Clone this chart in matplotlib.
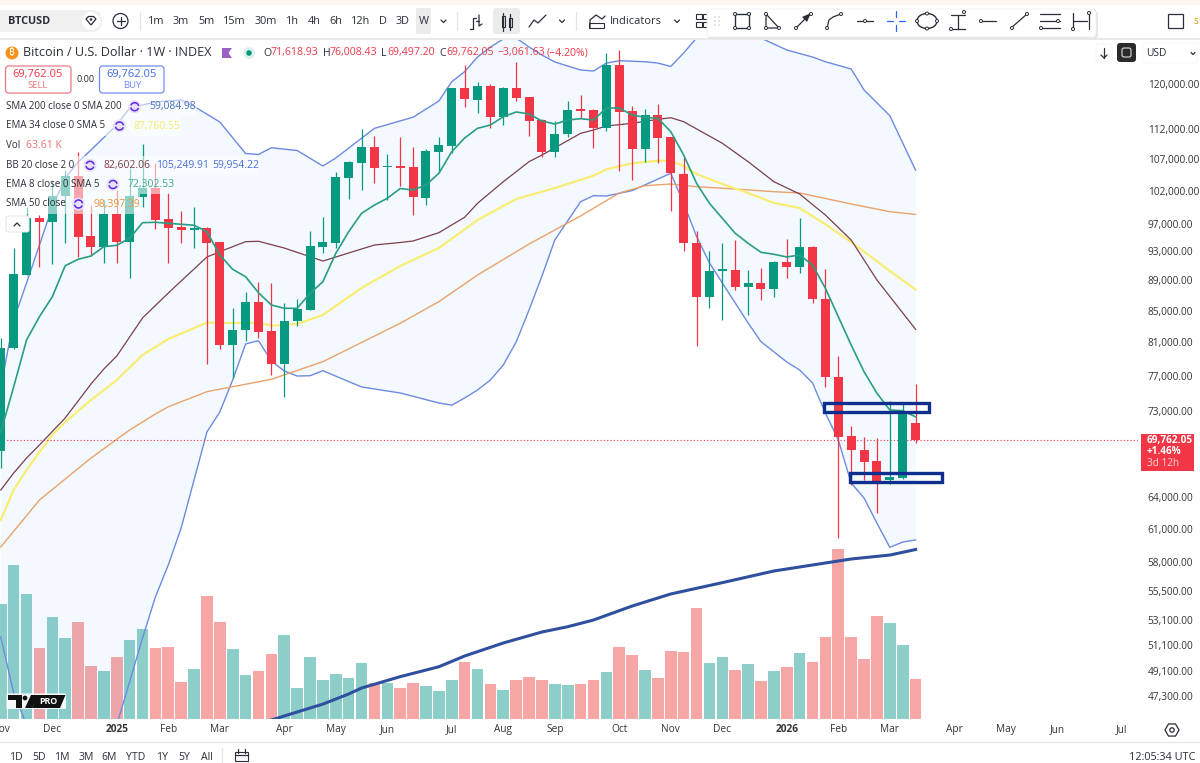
import numpy as np
import matplotlib
matplotlib.use("Agg")
import matplotlib.pyplot as plt
from matplotlib.patches import Rectangle, FancyBboxPatch, Circle, Arc, Ellipse, Polygon

plt.rcParams["font.family"] = ["Open Sans", "DejaVu Sans"]

# weekly candles
opens = [68640, 80330, 89725, 97905, 97225, 101190, 104370, 95220, 93590, 98410, 94395, 101085,
         102480, 97670, 96485, 96091, 96340, 94350, 80660, 82525, 86120, 82360, 78360, 83625,
         85075, 93680, 94250, 104050, 106455, 109025, 105805, 105919, 105760, 100930, 108250, 109190,
         119220, 117114, 119635, 114175, 119325, 117590, 113603, 108250, 111155, 115470, 115400, 112227,
         123515, 115170, 108700, 114520, 110650, 104640, 94250, 86810, 90320, 90375, 88105, 88605,
         87840, 91480, 90870, 93680, 86550, 76825, 70225, 68748, 67575, 65679, 65910, 71618.93]
highs = [81525, 93490, 99560, 98305, 103689, 105279, 108250, 99815, 100580, 102123, 105600, 109480,
         106360, 101610, 98910, 99470, 96570, 94395, 85370, 87480, 88820, 88605, 86025, 86470,
         95945, 97965, 105005, 106780, 112005, 110865, 107820, 110700, 109075, 108700, 110650, 119270,
         123515, 120420, 119950, 119450, 124145, 117700, 113725, 113430, 116880, 118005, 115520, 125860,
         126376, 116100, 115520, 116400, 110750, 107430, 95990, 93070, 94250, 94640, 90416, 90650,
         91660, 94785, 97860, 93780, 90510, 79320, 71340, 70085, 69980, 74070, 73880, 76008.43]
lows = [66890, 80200, 89725, 90870, 91200, 94250, 92265, 92400, 91425, 91340, 89280, 99560,
        96190, 91425, 94165, 93535, 78325, 80135, 76745, 81190, 81490, 77060, 74490, 83065,
        85075, 92825, 93450, 100730, 102123, 103170, 100580, 102790, 98305, 99815, 105005, 107990,
        115920, 114770, 112175, 112740, 116935, 110865, 107430, 107330, 110750, 114000, 108810, 111770,
        105120, 103689, 106620, 106360, 98910, 93110, 80575, 85295, 83790, 87705, 84430, 86380,
        86810, 89280, 90045, 86025, 75700, 60100, 65180, 65679, 62440, 65250, 65750, 69497.20]
closes = [80330, 89826, 97905, 97225, 101190, 104370, 95115, 93590, 98410, 94310, 101190, 102480,
          97565, 96430, 96091, 96380, 94250, 80660, 82560, 86120, 82275, 78325, 83700, 85165,
          93780, 94350, 104165, 106520, 109025, 105645, 105950, 105600, 101085, 108367, 109310, 119220,
          117290, 119635, 114175, 119325, 117470, 113480, 108250, 111207, 115400, 115225, 112227, 123515,
          115050, 108700, 114520, 110580, 104750, 94210, 86810, 90320, 90510, 88105, 88605, 87840,
          91480, 90827, 93680, 86470, 76825, 70150, 68748, 67535, 65610, 65950, 72985, 69762.05]
volumes = [186, 249, 202, 115, 165, 131, 157, 85, 77, 99, 128, 145,
           115, 116, 59, 80, 199, 157, 112, 70, 77, 104, 136, 50,
           99, 62, 73, 66, 90, 58, 58, 50, 58, 53, 45, 63,
           91, 80, 56, 46, 63, 67, 62, 56, 54, 56, 63, 75,
           116, 103, 78, 65, 110, 108, 180, 90, 100, 79, 88, 61,
           77, 84, 106, 91, 133, 275, 133, 96, 166, 155, 120, 63.61]

# indicators
ema8 = [70657, 75670, 81278, 84210, 86810, 91005, 91900, 92362, 93680, 93880, 94885, 97165,
        97225, 97075, 96930, 96785, 95840, 92500, 90510, 89495, 87345, 85725, 85295, 85295,
        87265, 88820, 92740, 95840, 98560, 99815, 100840, 102355, 102123, 102900, 104750, 108250,
        110530, 112175, 112740, 114175, 115000, 114650, 113430, 112910, 113603, 113830, 113603, 115695,
        115695, 114470, 114070, 113900, 111600, 107700, 103170, 100070, 97815, 95610, 94165, 92885,
        92605, 92225, 92500, 91110, 87930, 84210, 80660, 77450, 74945, 73064, 72985, 72302.53]

ema34_bars = [0, 1, 2, 3, 4, 5, 6, 7, 9, 11, 13, 16, 18, 20, 21, 23, 25, 28, 31, 34, 37, 40, 43, 46,
              47, 49, 51, 52, 53, 54, 56, 58, 60, 62, 64, 66, 69, 71]
ema34 = [61800, 64687, 66687, 68540, 70330, 71740, 72950, 74184, 76477, 79440, 81400, 83450, 83400,
         83450, 83065, 83280, 84430, 87970, 90970, 93490, 97565, 100730, 102430, 104370,
         105390, 106360, 106780, 106780, 105920, 104640, 103060, 101660, 100130, 99360, 96930,
         94350, 90280, 87760.55]

basis_bars = [0, 1, 2, 3, 5, 7, 8, 9, 11, 13, 16, 17, 19, 20, 22, 24, 25, 26, 29, 31, 32, 34, 36, 37,
              39, 41, 42, 45, 46, 47, 49, 51, 52, 53, 56, 58, 60, 62, 64, 66, 68, 71]
basis = [64687, 66380, 67910, 69275, 72180, 76010, 77770, 79310, 84045, 87305, 92220, 92970, 94400,
         94455, 93490, 92265, 91660, 92220, 93920, 94280, 94495, 95700, 97970, 100070,
         103420, 106620, 107700, 111320, 111887, 112570, 113030, 113720, 114000, 113310, 109650,
         106620, 103420, 101500, 98300, 94640, 89050, 82602.06]

upper_bars = [0, 1, 2, 3, 4, 5, 6, 7, 9, 10, 12, 14, 15, 17, 19, 20, 21, 23, 25, 26, 29, 32, 34, 35,
              36, 37, 38, 39, 40, 41, 42, 43, 45, 46, 47, 48, 50, 51, 52, 53, 54, 55, 56, 58, 59,
              60, 61, 63, 64, 66, 67, 69, 70, 71]
upper = [75670, 83790, 88650, 93920, 99510, 104000, 106570, 108530, 112740, 115695, 116760, 117114,
         115990, 113255, 107960, 107800, 108900, 108450, 105920, 107220, 112170, 114090, 116935,
         120420, 122280, 125035, 126950, 128510, 128700, 126950, 125420, 124090, 122585, 122400,
         123880, 124330, 124140, 123880, 123250, 125800, 128700, 130680, 131470, 130870, 128700,
         127530, 126376, 125035, 124140, 122770, 118910, 114350, 109700, 105249.91]

lower_bars = [0, 1, 2, 3, 4, 5, 6, 7, 8, 9, 10, 11, 12, 13, 14, 15, 16, 17, 18, 19, 20, 21, 22, 23, 24, 25,
              28, 31, 34, 35, 36, 37, 38, 39, 40, 41, 42, 43, 45, 46, 47, 49, 52, 53, 54, 55, 56, 58,
              59, 61, 62, 63, 64, 65, 66, 67, 68, 69, 70, 71]
lower = [51720, 47494, 45236, 43546, 41900, 41000, 40700, 41000, 42240, 45236, 48300, 51640, 54965,
         57710, 61050, 65679, 70657, 72840, 76477, 80790, 81190, 78720, 77530, 76940, 76975, 77565,
         75670, 74980, 73850, 73600, 74410, 75320, 76477, 78240, 81030, 85075, 89590, 94640,
         100315, 101250, 101190, 102025, 104750, 100070, 95150, 91382, 88650, 83410,
         81070, 78600, 77650, 76130, 72730, 69802, 65380, 63900, 61500, 59280, 59760, 59954.22]

sma50_bars = [0, 3, 7, 10, 12, 13, 16, 21, 25, 31, 34, 37, 41, 45, 48, 50, 52, 54, 57, 60, 62, 66, 69, 71]
sma50 = [59310, 63710, 67910, 70873, 72620, 73420, 75130, 76560, 78640, 83375, 86160, 89725,
         94060, 98165, 101660, 102790, 103060, 102640, 102280, 101860, 101660, 99970, 98810, 98397.39]

sma200_bars = [21, 22, 25, 27, 28, 31, 34, 36, 39, 42, 44, 46, 49, 52, 56, 60, 63, 66, 69, 71]
sma200 = [45581, 45860, 46700, 47420, 47855, 48690, 49430, 50245, 51250, 52115, 52535, 53074,
          54215, 55220, 56180, 57185, 57710, 58240, 58590, 59084.98]

price_ticks = [120000, 112000, 107000, 102000, 97000, 93000, 89000, 85000, 81000, 77000, 73000,
               64000, 61000, 58000, 55500, 53100, 51100, 49100, 47300]
time_bars = [0, 4, 9, 13, 17, 22, 26, 30, 35, 39, 43, 48, 52, 56, 61, 65, 69, 74, 78, 82, 87]
time_labels = ["Nov", "Dec", "2025", "Feb", "Mar", "Apr", "May", "Jun", "Jul", "Aug", "Sep", "Oct",
               "Nov", "Dec", "2026", "Feb", "Mar", "Apr", "May", "Jun", "Jul"]

timeframes = ["1m", "3m", "5m", "15m", "30m", "1h", "4h", "6h", "12h", "D", "3D", "W"]
timeframe_x = [156.5, 181, 206, 234.6, 265.6, 292, 314, 335.6, 361, 383, 402.6, 423.6]
ranges = ["1D", "5D", "1M", "3M", "6M", "YTD", "1Y", "5Y", "All"]
range_x = [16, 39, 62, 86, 109, 136, 162.5, 184, 207]

GREEN = "#089981"
RED = "#F23645"
GREY = "#2A2E39"
BLUE = "#2962FF"

fig = plt.figure(figsize=(12, 7.63), dpi=100)
bottom = (763 - 718.5) / 763
height = (718.5 - 40) / 763
ax_vol = fig.add_axes([0, bottom, 1138 / 1200, height], zorder=1)
ax = fig.add_axes([0, bottom, 1138 / 1200, height], zorder=2)
ax.patch.set_visible(False)

bars = np.arange(len(closes))
is_up = np.array(closes) >= np.array(opens)
xlim = (-0.06, 88.26)

ax_vol.bar(bars, volumes, width=0.9, color=["#8DCFC8" if u else "#F7A6A6" for u in is_up])
ax_vol.set_xlim(xlim)
ax_vol.set_ylim(0, 1101)
ax_vol.axis("off")

ax.set_yscale("log")
ax.fill(np.r_[upper_bars, lower_bars[::-1]], np.r_[upper, lower[::-1]],
        color="#2196F3", alpha=0.05, lw=0, zorder=1)
ax.plot(upper_bars, upper, color="#6C8BE0", lw=1, zorder=2)
ax.plot(lower_bars, lower, color="#6C8BE0", lw=1, zorder=2)
ax.plot(sma50_bars, sma50, color="#E9A26C", lw=1, zorder=2)
ax.plot(ema34_bars, ema34, color="#F9EE73", lw=1.6, zorder=2)
ax.plot(basis_bars, basis, color="#7C3F4B", lw=0.9, zorder=2)
ax.plot(sma200_bars, sma200, color="#2F4F9F", lw=2.2, zorder=2)

colors = [GREEN if u else RED for u in is_up]
ax.vlines(bars, lows, highs, colors=colors, lw=0.9, zorder=3)
ax.bar(bars, np.abs(np.array(closes) - np.array(opens)), bottom=np.minimum(opens, closes),
       width=0.7, color=colors, zorder=3)
ax.plot(bars, ema8, color="#2A9D85", lw=1.2, zorder=4)

ax.axhline(closes[-1], color=RED, lw=0.8, ls=(0, (1, 2)), zorder=2)

ax.add_patch(Rectangle((63.9, 72880), 8.13, 73870 - 72880, fill=False, ec="#0F2F8F", lw=2.4, zorder=5))
ax.add_patch(Rectangle((65.9, 65480), 7.15, 66360 - 65480, fill=False, ec="#0F2F8F", lw=2.4, zorder=5))

ax.set_xlim(xlim)
ax.set_ylim(45686, 128313)
ax.yaxis.tick_right()
ax.set_yticks(price_ticks)
ax.set_yticklabels([f"{p:,.2f}" for p in price_ticks])
ax.minorticks_off()
ax.set_xticks(time_bars)
ax.set_xticklabels(time_labels)
ax.tick_params(axis="both", length=0, labelsize=7.3, labelcolor="#333333")
ax.tick_params(axis="y", pad=7)
ax.tick_params(axis="x", pad=4)
for lbl in ax.get_xticklabels():
    if lbl.get_text() in ("2025", "2026"):
        lbl.set_fontweight("bold")
for spine in ax.spines.values():
    spine.set_visible(False)

# screen furniture, in pixels
ui = fig.add_axes([0, 0, 1, 1], zorder=5)
ui.set_xlim(0, 1200)
ui.set_ylim(763, 0)
ui.axis("off")
ui.patch.set_visible(False)


def txt(x, y, s, size=7.6, color=GREY, ha="left", **kw):
    return ui.text(x, y, s, fontsize=size, color=color, ha=ha, va="center", **kw)


def box(x0, y0, x1, y1, r=2, fc="white", ec="none", lw=0.8, **kw):
    p = FancyBboxPatch((x0 + r, y0 + r), x1 - x0 - 2 * r, y1 - y0 - 2 * r,
                       boxstyle=f"round,pad={r}", fc=fc, ec=ec, lw=lw, **kw)
    ui.add_patch(p)


def line(xs, ys, color=GREY, lw=0.9):
    ui.plot(xs, ys, color=color, lw=lw, solid_capstyle="round")


def node(x, y, color=GREY):
    ui.add_patch(Circle((x, y), 1.5, fc="white", ec=color, lw=0.7, zorder=6))


# top bar
ui.add_patch(Rectangle((0, 0), 1200, 5, fc="#FDF6F0", ec="none"))
ui.add_patch(Rectangle((0, 5), 1200, 33, fc="white", ec="none"))
line([0, 1200], [38.5, 38.5], "#E6E6E6", 1.2)
box(-10, 10, 102, 32, r=10, fc="#F0F0F0")
txt(8, 21, "BTCUSD", size=7.8, weight="bold")
ui.add_patch(Circle((91, 21), 9, fc="white", ec="none"))
ui.add_patch(Polygon([[86, 19], [88.5, 16.5], [93.5, 16.5], [96, 19], [91, 25]], fc="white", ec=GREY, lw=0.9))
ui.add_patch(Circle((91, 19.5), 1.3, fc=GREY, ec="none"))
ui.add_patch(Circle((120.5, 21), 7.5, fc="white", ec=GREY, lw=0.9))
line([116.5, 124.5], [21, 21])
line([120.5, 120.5], [17, 25])
line([140, 140], [12, 30], "#E6E6E6")
box(416, 8, 431, 34, r=2, fc="#EBEBEB")
for x, s in zip(timeframe_x, timeframes):
    txt(x, 21, s, ha="center", size=7.8)
line([441, 443.5, 446], [20, 22.5, 20])
line([457, 457], [12, 30], "#E6E6E6")
line([473, 473, 470], [18, 29, 29])
line([473, 476], [18, 18])
line([479, 479, 482], [15, 26, 24])
line([479, 476], [21, 21])
box(493, 8, 520, 34, r=3, fc="#EBEBEB")
ui.add_patch(Rectangle((501.5, 16), 3.5, 11, fc="none", ec=GREY, lw=0.8))
ui.add_patch(Rectangle((508.5, 18), 3.5, 9, fc="none", ec=GREY, lw=0.8))
line([503.3, 503.3], [13, 31])
line([510.3, 510.3], [14, 30])
line([529, 534, 538, 546], [27, 20, 23, 15])
line([559.5, 562, 564.5], [20, 22.5, 20])
line([576, 576], [12, 30], "#E6E6E6")
line([590, 590, 596, 602, 605], [28, 20, 15, 19, 16])
ui.add_patch(Rectangle((589, 23), 15, 5, fc="none", ec=GREY, lw=0.8))
txt(609.5, 21, "Indicators", size=8)
line([674.5, 677, 679.5], [20, 22.5, 20])
for xx, yy in [(697, 16), (704, 16), (697, 24), (704, 24)]:
    ui.add_patch(Rectangle((xx - 1, yy - 2.5), 6, 5, fc="none", ec=GREY, lw=0.8))
ui.add_patch(Rectangle((1168, 14), 15, 14, fc="none", ec=GREY, lw=0.9))
txt(1194, 21, "s", size=7, color="#D8A000")

# floating drawing toolbar
box(708, 11, 1098, 39, r=3, fc="#D9D9D9", ec="none", alpha=0.6)
box(707, 9, 1096, 37, r=3, fc="white", ec="#EEEEEE", lw=0.5)
for gx in (715, 719):
    for gy in (17, 21, 25):
        ui.add_patch(Circle((gx, gy), 0.8, fc="#CCCCCC", ec="none"))
ui.add_patch(Rectangle((735, 14), 14, 14, fc="none", ec=GREY, lw=1))
for nx, ny in [(735, 14), (749, 14), (735, 28), (749, 28)]:
    node(nx, ny)
line([766, 766, 779, 766], [14, 28, 28, 14])
node(766, 14), node(766, 28), node(779, 28)
line([796, 810], [28, 14])
ui.add_patch(Polygon([[811, 13], [802, 17], [807, 22]], fc=GREY, ec="none"))
node(796, 28), node(811, 14)
line([827, 829, 833, 841], [28, 20, 17, 14])
node(827, 28), node(841, 14)
line([857, 873], [21, 21])
node(865, 21)
line([887, 893], [21, 21], BLUE)
line([899, 905], [21, 21], BLUE)
line([896, 896], [11, 17], BLUE)
line([896, 896], [25, 31], BLUE)
ui.add_patch(Ellipse((927, 21), 20, 15, fc="none", ec=GREY, lw=1))
for nx, ny in [(917, 21), (937, 21), (927, 13.5), (927, 28.5)]:
    node(nx, ny)
line([951, 965], [15, 15])
line([951, 965], [29, 29])
line([958, 958], [15, 29])
node(964, 12), node(951, 29)
line([980, 996], [21, 21])
node(981, 21)
line([1011, 1027], [28, 14])
node(1012, 28), node(1027, 14)
for ly in (14, 21, 28):
    line([1040, 1060], [ly, ly])
node(1041, 28), node(1058, 21)
line([1073, 1073], [13, 29])
line([1089, 1089], [13, 29])
line([1073, 1087], [21, 21])
node(1073, 29), node(1089, 13)

# price scale top buttons
box(1096, 44, 1112, 62, r=2, fc="white", ec="#F0F0F0", lw=0.5)
line([1104, 1104], [48, 58])
line([1101, 1104, 1107], [55, 58, 55])
box(1117, 43, 1136, 62, r=3, fc="#2A2A2A")
box(1122, 48, 1131, 57, r=2, fc="#2A2A2A", ec="#DDDDDD", lw=0.8)
box(1143, 43, 1197, 63, r=2, fc="white", ec="#F4F4F4", lw=0.5)
txt(1146, 53, "USD", size=7.4)
line([1191, 1193, 1195], [52.5, 54.5, 52.5])

# symbol header
ui.add_patch(Circle((12, 53), 6.5, fc="#F7931A", ec="none"))
txt(12, 53, "\u20bf", size=7, color="white", ha="center",
    family=["Noto Sans", "Roboto", "Inter", "Lato", "Liberation Sans", "DejaVu Sans"])
txt(23, 53, "Bitcoin / U.S. Dollar \u00b7 1W \u00b7 INDEX", size=9.1)
ui.add_patch(Polygon([[222, 48], [232, 48], [228.5, 53], [232, 58], [222, 58]], fc="#9C5FC4", ec="none"))
ui.add_patch(Circle((249, 53), 6, fc="#DDF2EE", ec="none"))
ui.add_patch(Circle((249, 53), 2.8, fc=GREEN, ec="none"))
txt(263, 53, "O", size=7.6)
txt(270.5, 53, "71,618.93", size=7.6, color=RED)
txt(322.5, 53, "H", size=7.6)
txt(330, 53, "76,008.43", size=7.6, color=RED)
txt(381.5, 53, "L", size=7.6)
txt(387, 53, "69,497.20", size=7.6, color=RED)
txt(439, 53, "C", size=7.6)
txt(446, 53, "69,762.05", size=7.6, color=RED)
txt(497.5, 53, "\u22123,061.63", size=7.6, color=RED)
txt(547, 53, "(\u22124.20%)", size=7.6, color=RED)

# sell / buy
box(5.5, 66, 71, 93, r=3, fc="white", ec="#E87C84", lw=0.9)
txt(38, 74, "69,762.05", size=8, color=RED, ha="center")
txt(38, 85.5, "SELL", size=6.8, color="#E8737C", ha="center")
txt(85.5, 79, "0.00", size=6.6, ha="center")
box(99.5, 66, 164, 93, r=3, fc="white", ec="#6E8DF2", lw=0.9)
txt(132, 74, "69,762.05", size=8, color="#3C68E8", ha="center")
txt(132, 85.5, "BUY", size=6.8, color="#6E8DF2", ha="center")

# indicator legend
for y0, y1, x1 in [(97, 116, 197), (116, 136, 180), (136, 156, 62), (156, 175, 258),
                   (175, 194, 175), (194, 214, 140)]:
    ui.add_patch(Rectangle((0, y0), x1, y1 - y0, fc="white", ec="none", alpha=0.55))


def refresh(x, y):
    ui.add_patch(Circle((x, y), 6.5, fc="#E7DFFB", ec="none"))
    ui.add_patch(Arc((x, y), 8, 8, theta1=20, theta2=170, ec="#5A2BE0", lw=1.1))
    ui.add_patch(Arc((x, y), 8, 8, theta1=200, theta2=350, ec="#5A2BE0", lw=1.1))


txt(6, 106.7, "SMA 200 close 0 SMA 200", size=7.0)
refresh(134.7, 106.7)
txt(149, 106.7, "59,084.98", size=7.5, color="#4A6FC2")
txt(6, 126, "EMA 34 close 0 SMA 5", size=7.0)
refresh(119.5, 126)
txt(133, 126, "87,760.55", size=7.5, color="#F6EC6A")
txt(6, 146, "Vol", size=7.0)
txt(26.5, 146, "63.61 K", size=7.5, color="#EE7178")
txt(6, 165.3, "BB 20 close 2 0", size=7.0)
refresh(90, 165.3)
txt(104, 165.3, "82,602.06", size=7.5, color="#7E3A45")
txt(156, 165.3, "105,249.91", size=7.5, color="#4A6FE0")
txt(212, 165.3, "59,954.22", size=7.5, color="#4A6FE0")
txt(6, 184.5, "EMA 8 close 0 SMA 5", size=7.0)
refresh(113, 184.5)
txt(128, 184.5, "72,302.53", size=7.5, color="#3DAA94")
txt(6, 204, "SMA 50 close", size=7.0)
refresh(78.5, 204)
txt(93, 204, "98,397.39", size=7.5, color="#E8963F")
box(6, 216, 29, 232, r=2, fc="white", ec="#E6E6E6", lw=0.7)
line([14, 17, 20], [226, 223, 226])

# last price tag
ui.add_patch(Rectangle((1140.7, 434.3), 53.3, 36.4, fc=RED, ec="none"))
txt(1147, 441, "69,762.05", size=7.2, color="white", weight="bold")
txt(1147, 452, "+1.46%", size=7.2, color="white", weight="bold")
txt(1147, 463, "3d 12h", size=7.2, color="#FFD5D8")

# TV Pro logo
box(6.5, 693.5, 66, 709, r=0.5, fc="white", alpha=0.9)
ui.add_patch(Polygon([[8, 695], [22, 695], [22, 708], [16, 708], [16, 700], [8, 700]], fc="#111111", ec="none"))
ui.add_patch(Circle((25, 698), 2.4, fc="#111111", ec="none"))
ui.add_patch(Polygon([[31, 695], [38, 695], [32, 708], [25, 708]], fc="#111111", ec="none"))
ui.add_patch(Polygon([[37, 695], [65.5, 695], [60, 708], [32, 708]], fc="#111111", ec="none"))
txt(48.5, 701.5, "PRO", size=6.4, color="white", ha="center", weight="bold")

# bottom bar
line([0, 1200], [741.5, 741.5], "#E6E6E6", 1)
for x, s in zip(range_x, ranges):
    txt(x, 757, s, ha="center", size=7.6)
line([222, 222], [748, 763], "#E6E6E6")
ui.add_patch(Rectangle((235, 752), 13, 9, fc="none", ec=GREY, lw=0.8))
line([235, 248], [755, 755])
line([238, 238], [749, 753])
line([245, 245], [749, 753])
txt(1195, 757, "12:05:34 UTC", ha="right", size=7.8)
hexa = [[1172 + 7 * np.cos(a), 730 + 7 * np.sin(a)] for a in np.radians(np.arange(0, 360, 60))]
ui.add_patch(Polygon(hexa, fc="none", ec=GREY, lw=0.9))
ui.add_patch(Circle((1172, 730), 2.2, fc="none", ec=GREY, lw=0.9))

fig.savefig("out.png", dpi=100)
